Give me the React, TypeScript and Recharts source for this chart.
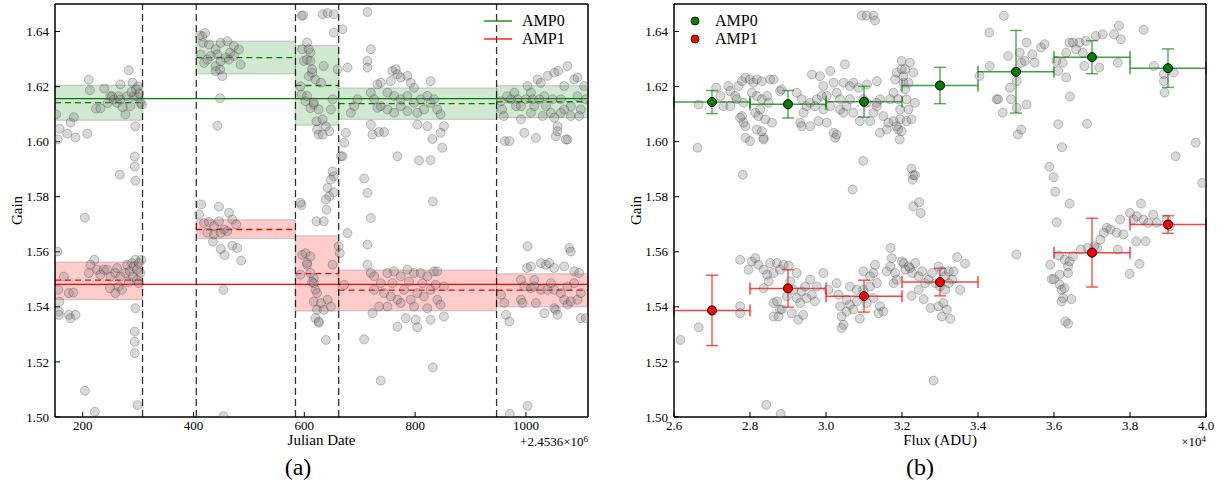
import React from 'react';
import { ScatterChart, Scatter, XAxis, YAxis, ReferenceArea, ReferenceLine, ErrorBar, Legend } from 'recharts';

const FONT = '"Liberation Serif", "DejaVu Serif", serif';
const GREEN = '#008000';
const RED = '#ff0000';

// ---- panel (a): gain vs Julian date (offset 2.4536e6) ----
const dateTicks = [200, 400, 600, 800, 1000];
const gainTicks = [1.5, 1.52, 1.54, 1.56, 1.58, 1.6, 1.62, 1.64];
const breakDates = [308, 405, 584, 662, 947];
const segStart = [150, 405, 584, 662, 947];
const segEnd = [308, 584, 662, 947, 1112];
const amp0Mean = [1.6142, 1.6305, 1.6204, 1.6138, 1.6145];
const amp0Lo = [1.6078, 1.6246, 1.606, 1.6081, 1.6087];
const amp0Hi = [1.6205, 1.6365, 1.6349, 1.6195, 1.6203];
const amp1Mean = [1.5497, 1.5681, 1.5521, 1.5461, 1.5461];
const amp1Lo = [1.5427, 1.5648, 1.5385, 1.5386, 1.54];
const amp1Hi = [1.5563, 1.5716, 1.5658, 1.5534, 1.552];
const amp0Overall = 1.6156;
const amp1Overall = 1.5482;

const dateGainSeg1: [number, number][] = [
  [152, 1.6099], [158, 1.6047], [155, 1.6008], [172, 1.6029], [178, 1.6069], [184, 1.6089], [187, 1.6015],
  [208, 1.6029], [211, 1.6225], [213, 1.6187], [224, 1.612], [232, 1.6121], [239, 1.6193], [250, 1.6165],
  [253, 1.6165], [256, 1.6153], [262, 1.6141], [265, 1.6165], [268, 1.6208], [268, 1.6153], [277, 1.6099],
  [280, 1.6165], [283, 1.6259], [286, 1.6129], [290, 1.6214], [292, 1.6165], [295, 1.6056], [298, 1.6165],
  [300, 1.6201], [304, 1.6141], [307, 1.6135], [296, 1.619], [302, 1.6175], [288, 1.618], [245, 1.614],
  [272, 1.6125], [294, 1.5946], [294, 1.591], [295, 1.5858], [267, 1.588], [204, 1.5724],
  [154, 1.5601], [156, 1.5462], [158, 1.5419], [157, 1.5383], [157, 1.5371], [175, 1.5371], [178, 1.5359],
  [187, 1.5371], [166, 1.551], [175, 1.545], [183, 1.5452], [211, 1.5523], [214, 1.5553], [221, 1.5571],
  [226, 1.5535], [232, 1.5517], [238, 1.5535], [244, 1.5535], [250, 1.551], [259, 1.5523], [262, 1.5541],
  [249, 1.5468], [259, 1.545], [265, 1.5474], [271, 1.5462], [268, 1.551], [277, 1.5523], [280, 1.5553],
  [283, 1.549], [285, 1.5529], [289, 1.5559], [292, 1.5547], [295, 1.5571], [298, 1.5535], [301, 1.5559],
  [304, 1.5523], [306, 1.5571], [291, 1.551], [298, 1.5498], [301, 1.5486], [295, 1.5395], [294, 1.531],
  [294, 1.5273], [294, 1.5232], [299, 1.5043], [204, 1.5095], [222, 1.5019],
];
const dateGainSeg2: [number, number][] = [
  [411, 1.6386], [416, 1.6383], [421, 1.6395], [417, 1.6359], [428, 1.6353], [440, 1.6335], [449, 1.6359],
  [461, 1.6365], [473, 1.6347], [482, 1.6335], [419, 1.6286], [425, 1.6298], [440, 1.6274], [448, 1.6262],
  [452, 1.6238], [466, 1.6323], [473, 1.6311], [485, 1.628], [449, 1.6292], [443, 1.6317], [431, 1.6311],
  [458, 1.6305], [464, 1.6298], [413, 1.6317], [440, 1.6256], [448, 1.6158], [443, 1.6058],
  [414, 1.5772], [446, 1.5764], [410, 1.5736], [419, 1.5705], [428, 1.5708], [437, 1.5693], [446, 1.5711],
  [455, 1.5681], [464, 1.5742], [470, 1.5717], [477, 1.5699], [425, 1.5669], [437, 1.5663], [449, 1.5669],
  [461, 1.5675], [435, 1.5637], [449, 1.561], [456, 1.5588], [470, 1.5622], [479, 1.5614], [486, 1.5568],
  [454, 1.5462], [454, 1.5003],
];
const dateGainSeg3: [number, number][] = [
  [595, 1.6457], [596, 1.6336], [599, 1.6293], [605, 1.6298], [611, 1.6323], [608, 1.6238], [614, 1.625],
  [593, 1.6201], [595, 1.6171], [602, 1.6147], [611, 1.6122], [617, 1.6135], [622, 1.6074], [623, 1.6044],
  [626, 1.6026], [595, 1.577], [622, 1.5711], [598, 1.6459], [633, 1.6463], [642, 1.6467], [653, 1.6463],
  [653, 1.6396], [605, 1.636], [608, 1.6336], [611, 1.6293], [614, 1.6263], [620, 1.6226], [630, 1.6214],
  [635, 1.6275], [605, 1.6166], [617, 1.6142], [626, 1.6117], [633, 1.6081], [639, 1.6056], [645, 1.6038],
  [633, 1.6026], [648, 1.6117], [651, 1.6154], [660, 1.6263], [653, 1.5874], [651, 1.5892], [648, 1.5862],
  [642, 1.5832], [645, 1.5802], [639, 1.579], [640, 1.5753], [635, 1.5711], [593, 1.5778], [653, 1.5816],
  [666, 1.5947],
  [596, 1.5589], [602, 1.5595], [611, 1.5583], [605, 1.5553], [593, 1.5517], [617, 1.5505], [620, 1.5462],
  [614, 1.549], [617, 1.5419], [620, 1.5359], [626, 1.5342], [623, 1.539], [605, 1.556], [611, 1.5523],
  [617, 1.5486], [623, 1.545], [630, 1.5414], [635, 1.5389], [626, 1.5347], [639, 1.528], [642, 1.5426],
  [648, 1.5401], [651, 1.5553], [662, 1.562], [664, 1.5595],
];
const dateGainSeg4: [number, number][] = [
  [678, 1.6269], [669, 1.6408], [714, 1.6471], [720, 1.6336], [714, 1.6293], [714, 1.6269], [738, 1.6214],
  [732, 1.6208], [720, 1.6178], [726, 1.6154], [732, 1.6123], [720, 1.6062], [723, 1.6026], [735, 1.6035],
  [744, 1.6035], [759, 1.6257], [765, 1.6263], [768, 1.6245], [774, 1.6233], [786, 1.6239], [792, 1.6214],
  [798, 1.6196], [756, 1.622], [750, 1.6178], [762, 1.6166], [774, 1.6154], [786, 1.6166], [798, 1.6141],
  [810, 1.6154], [822, 1.6166], [828, 1.622], [834, 1.6154], [840, 1.6117], [846, 1.6099], [852, 1.6056],
  [738, 1.6129], [750, 1.6117], [762, 1.6105], [774, 1.6129], [786, 1.6111], [804, 1.6105], [816, 1.6117],
  [828, 1.6141], [804, 1.6062], [822, 1.6056], [846, 1.6032], [831, 1.601], [849, 1.5978], [768, 1.5947],
  [807, 1.5932], [828, 1.5933], [708, 1.5866], [714, 1.5814], [720, 1.5723], [678, 1.5668], [832, 1.5783],
  [672, 1.5996], [669, 1.5947], [675, 1.6032], [690, 1.6129], [684, 1.6105], [696, 1.6154],
  [714, 1.5626], [714, 1.5553], [708, 1.5282], [738, 1.5132], [832, 1.518], [720, 1.5523], [726, 1.5511],
  [738, 1.5486], [750, 1.5523], [762, 1.5529], [774, 1.5511], [786, 1.5535], [798, 1.5523], [810, 1.5523],
  [822, 1.5511], [834, 1.5529], [840, 1.5529], [852, 1.5474], [723, 1.5377], [735, 1.5401], [750, 1.5401],
  [768, 1.5328], [783, 1.5359], [801, 1.5353], [804, 1.5326], [828, 1.5353], [852, 1.5365], [726, 1.5462],
  [744, 1.545], [756, 1.5438], [768, 1.5426], [780, 1.5462], [792, 1.5426], [804, 1.545], [816, 1.5438],
  [828, 1.5462], [840, 1.5426], [846, 1.5408], [774, 1.5414], [798, 1.5401], [822, 1.5395], [759, 1.5486],
  [789, 1.5492], [813, 1.5486], [837, 1.548], [672, 1.548],
];
const dateGainSeg5: [number, number][] = [
  [955, 1.6147], [957, 1.6117], [960, 1.6093], [962, 1.6002], [970, 1.6002], [966, 1.6165], [979, 1.6178],
  [985, 1.6154], [991, 1.6081], [997, 1.6032], [1003, 1.6202], [1009, 1.6178], [1015, 1.6129], [1018, 1.6014],
  [1021, 1.6226], [1027, 1.6214], [1033, 1.6165], [1039, 1.6239], [1045, 1.6105], [1051, 1.6251], [1054, 1.602],
  [1057, 1.6056], [1058, 1.6257], [1063, 1.6154], [1069, 1.6202], [1075, 1.6275], [1075, 1.6008], [1081, 1.6129],
  [1087, 1.6226], [1093, 1.6165], [1099, 1.6117], [1105, 1.6202], [1108, 1.6154], [1093, 1.6233], [982, 1.6129],
  [1000, 1.6154], [1012, 1.6154], [1024, 1.6154], [1036, 1.6129], [1048, 1.6154], [1069, 1.6117], [1081, 1.6093],
  [1096, 1.6093], [1063, 1.6105], [1051, 1.6087], [1030, 1.6093], [1009, 1.6105], [991, 1.6129], [973, 1.6154],
  [1072, 1.6008], [1057, 1.6038],
  [1003, 1.562], [1078, 1.5614], [1081, 1.5601], [1002, 1.5541], [1009, 1.5547], [1027, 1.5559], [1036, 1.5553],
  [1042, 1.5559], [1051, 1.5541], [1069, 1.5547], [1087, 1.5529], [1096, 1.5523], [955, 1.5444], [961, 1.5414],
  [964, 1.5371], [970, 1.5347], [991, 1.5498], [997, 1.5474], [1009, 1.5468], [1015, 1.5474], [991, 1.5426],
  [994, 1.5414], [1018, 1.5414], [1033, 1.5377], [1051, 1.5395], [1054, 1.5389], [1057, 1.5371], [1069, 1.5426],
  [1075, 1.5408], [1081, 1.542], [1093, 1.5426], [1099, 1.5359], [1108, 1.5359], [1051, 1.5462], [1063, 1.545],
  [1075, 1.5474], [1087, 1.5486], [1099, 1.545], [1027, 1.5462], [1039, 1.5462], [1045, 1.5486], [1015, 1.5498],
  [1003, 1.504], [971, 1.5011],
];

// ---- panel (b): gain vs flux (units of 1e4 ADU) ----
const fluxTicks = [26000, 28000, 30000, 32000, 34000, 36000, 38000, 40000];
const fluxGainLow: [number, number][] = [
  [2.662, 1.5978], [2.665, 1.6135], [2.711, 1.6196], [2.722, 1.6166], [2.743, 1.6202], [2.748, 1.6184],
  [2.761, 1.6166], [2.77, 1.6202], [2.779, 1.622], [2.788, 1.6232], [2.8, 1.6226], [2.809, 1.6214],
  [2.818, 1.6226], [2.831, 1.622], [2.853, 1.6226], [2.862, 1.6226], [2.879, 1.6184], [2.883, 1.619],
  [2.73, 1.6129], [2.748, 1.6129], [2.765, 1.6154], [2.783, 1.6141], [2.779, 1.6093], [2.783, 1.6069],
  [2.788, 1.6056], [2.774, 1.6087], [2.788, 1.6014], [2.8, 1.6002], [2.818, 1.6044], [2.836, 1.6014],
  [2.836, 1.6008], [2.831, 1.6038], [2.814, 1.6105], [2.822, 1.6093], [2.827, 1.6117], [2.831, 1.6154],
  [2.845, 1.6166], [2.849, 1.6141], [2.858, 1.6069], [2.84, 1.6081], [2.818, 1.6166], [2.805, 1.6178],
  [2.781, 1.588], [2.923, 1.6178], [2.936, 1.6154], [2.941, 1.6105], [2.949, 1.6129], [2.958, 1.6141],
  [2.963, 1.6244], [2.984, 1.6238], [2.993, 1.6202], [2.932, 1.6069], [2.936, 1.6056], [2.958, 1.6056],
  [2.98, 1.6075], [2.993, 1.6117], [2.976, 1.6154], [2.989, 1.6166], [2.971, 1.6129],
  [2.617, 1.528], [2.665, 1.5326], [2.774, 1.5571], [2.774, 1.5402], [2.774, 1.5377], [2.796, 1.5535],
  [2.805, 1.5565], [2.814, 1.5577], [2.822, 1.5553], [2.836, 1.5535], [2.845, 1.5517], [2.853, 1.5559],
  [2.862, 1.5523], [2.871, 1.5559], [2.879, 1.5535], [2.888, 1.5553], [2.902, 1.555], [2.836, 1.5468],
  [2.849, 1.5493], [2.862, 1.5414], [2.871, 1.542], [2.879, 1.539], [2.862, 1.5365], [2.875, 1.5365],
  [2.884, 1.539], [2.897, 1.5438], [2.914, 1.5462], [2.923, 1.5432], [2.932, 1.5414], [2.936, 1.5456],
  [2.945, 1.5474], [2.949, 1.5432], [2.958, 1.5499], [2.963, 1.5444], [2.971, 1.542], [2.976, 1.5474],
  [2.993, 1.5523], [2.923, 1.5523], [2.91, 1.5377], [2.927, 1.5353], [2.94, 1.5371], [2.906, 1.5493],
  [2.843, 1.5044], [2.881, 1.5011],
];
const fluxGainMid: [number, number][] = [
  [3.002, 1.6166], [3.011, 1.6257], [3.02, 1.6214], [3.028, 1.6178], [3.037, 1.6154], [3.046, 1.6214],
  [3.05, 1.6281], [3.063, 1.6202], [3.072, 1.6214], [3.085, 1.6196], [3.002, 1.6069], [3.02, 1.6032],
  [3.024, 1.6014], [3.028, 1.6026], [3.011, 1.6129], [3.037, 1.6117], [3.046, 1.6105], [3.054, 1.6129],
  [3.063, 1.6154], [3.072, 1.6105], [3.089, 1.6075], [3.098, 1.593], [3.07, 1.5826], [3.116, 1.6075],
  [3.125, 1.6105], [3.134, 1.6129], [3.142, 1.6032], [3.16, 1.6044], [3.151, 1.6093], [3.164, 1.6069],
  [3.169, 1.6154], [3.178, 1.6178], [3.182, 1.6226], [3.186, 1.6251], [3.19, 1.6154], [3.195, 1.6117],
  [3.199, 1.6293], [3.199, 1.6263], [3.204, 1.6238], [3.204, 1.6214], [3.208, 1.619], [3.212, 1.6154],
  [3.217, 1.6117], [3.221, 1.6287], [3.217, 1.6214], [3.195, 1.6081], [3.186, 1.6056], [3.178, 1.6075],
  [3.19, 1.6044], [3.142, 1.6154], [3.133, 1.6141], [3.107, 1.6141], [3.098, 1.6154], [3.108, 1.6208],
  [3.134, 1.622], [3.094, 1.6458], [3.107, 1.6458], [3.125, 1.6458], [3.129, 1.644],
  [3.225, 1.5902], [3.229, 1.5878], [3.228, 1.5862], [3.234, 1.5878], [3.23, 1.5765], [3.245, 1.578],
  [3.249, 1.5741], [3.194, 1.6008], [3.199, 1.6038], [3.212, 1.6075], [3.225, 1.6081], [3.208, 1.6263],
  [3.23, 1.6251], [3.234, 1.6141],
  [3.006, 1.5462], [3.028, 1.5486], [3.033, 1.5444], [3.037, 1.5402], [3.041, 1.5365], [3.046, 1.5335],
  [3.041, 1.5323], [3.054, 1.5383], [3.063, 1.5408], [3.072, 1.539], [3.081, 1.542], [3.089, 1.5357],
  [3.098, 1.5462], [3.107, 1.5414], [3.116, 1.5474], [3.125, 1.5432], [3.134, 1.5486], [3.142, 1.5402],
  [3.151, 1.5383], [3.138, 1.5377], [3.125, 1.5523], [3.129, 1.5553], [3.098, 1.5529], [3.116, 1.5511],
  [3.16, 1.5529], [3.169, 1.5547], [3.17, 1.5614], [3.173, 1.5577], [3.182, 1.5523], [3.178, 1.5486],
  [3.186, 1.5499], [3.204, 1.5559], [3.221, 1.5541], [3.063, 1.5474], [3.054, 1.5426], [3.081, 1.5462],
  [3.2, 1.5565], [3.209, 1.5535], [3.218, 1.5547], [3.227, 1.5523], [3.235, 1.5559], [3.244, 1.5511],
  [3.253, 1.5529], [3.261, 1.5486], [3.27, 1.5499], [3.279, 1.5523], [3.288, 1.5486], [3.305, 1.5529],
  [3.314, 1.5511], [3.323, 1.5529], [3.332, 1.5499], [3.345, 1.5581], [3.353, 1.5462], [3.366, 1.5557],
  [3.225, 1.544], [3.244, 1.5462], [3.257, 1.5428], [3.275, 1.5396], [3.296, 1.5402], [3.305, 1.5365],
  [3.318, 1.539], [3.327, 1.5357], [3.309, 1.5414], [3.283, 1.5132], [3.296, 1.5547], [3.3, 1.5474],
  [3.314, 1.5462], [3.323, 1.5486], [3.336, 1.5529],
];
const fluxGainHigh: [number, number][] = [
  [3.404, 1.6239], [3.431, 1.6275], [3.43, 1.6396], [3.468, 1.6457], [3.479, 1.6311], [3.51, 1.6323],
  [3.514, 1.6287], [3.523, 1.6293], [3.528, 1.636], [3.543, 1.6317], [3.549, 1.6287], [3.566, 1.6342],
  [3.575, 1.6354], [3.449, 1.6154], [3.453, 1.6154], [3.484, 1.6196], [3.502, 1.622], [3.487, 1.6154],
  [3.502, 1.6123], [3.528, 1.6135], [3.465, 1.6105], [3.505, 1.6026], [3.514, 1.6044],
  [3.632, 1.6323], [3.641, 1.636], [3.65, 1.636], [3.658, 1.6336], [3.667, 1.636], [3.676, 1.6323],
  [3.684, 1.6366], [3.71, 1.6384], [3.728, 1.639], [3.758, 1.639], [3.771, 1.6421], [3.776, 1.6372],
  [3.768, 1.6287], [3.719, 1.6269], [3.68, 1.6275], [3.623, 1.6287], [3.606, 1.6293], [3.611, 1.6257],
  [3.632, 1.6233], [3.642, 1.6164], [3.836, 1.6406], [3.863, 1.6275], [3.889, 1.6245], [3.915, 1.6251],
  [3.889, 1.622], [3.891, 1.6178],
  [3.611, 1.6063], [3.687, 1.6065], [3.621, 1.598], [3.588, 1.5909], [3.599, 1.5871], [3.603, 1.5818],
  [3.641, 1.5775], [3.607, 1.5707], [3.92, 1.5947], [3.973, 1.5996], [3.99, 1.585],
  [3.739, 1.5687], [3.748, 1.5681], [3.765, 1.5669], [3.774, 1.5717], [3.783, 1.5663], [3.8, 1.5741],
  [3.809, 1.5717], [3.818, 1.5729], [3.829, 1.5775], [3.835, 1.5717], [3.848, 1.5705], [3.861, 1.5735],
  [3.87, 1.5705], [3.896, 1.5717], [3.905, 1.5693], [3.841, 1.5638], [3.731, 1.5669], [3.722, 1.5644],
  [3.714, 1.5614], [3.501, 1.559], [3.59, 1.5553], [3.594, 1.5501], [3.6, 1.5501], [3.613, 1.5587],
  [3.615, 1.5517], [3.628, 1.5571], [3.637, 1.5547], [3.637, 1.5523], [3.641, 1.5565], [3.65, 1.5584],
  [3.615, 1.5481], [3.62, 1.5462], [3.628, 1.5468], [3.624, 1.5432], [3.62, 1.542], [3.646, 1.5428],
  [3.63, 1.5347], [3.637, 1.5339], [3.689, 1.5614], [3.706, 1.562], [3.671, 1.5608], [3.768, 1.5608],
  [3.799, 1.552], [3.825, 1.5556], [3.816, 1.5638],
];

const binFlux0 = [27000, 29000, 31000, 33000, 35000, 37000, 39000];
const binGain0 = [1.6144, 1.6136, 1.6145, 1.6204, 1.6254, 1.6307, 1.6267];
const binErr0 = [0.0042, 0.005, 0.0056, 0.0066, 0.015, 0.006, 0.007];
const binFlux1 = [27000, 29000, 31000, 33000, 37000, 39000];
const binGain1 = [1.5387, 1.5467, 1.5439, 1.549, 1.5597, 1.5699];
const binErr1 = [0.0128, 0.0068, 0.0058, 0.005, 0.0125, 0.0032];
const binHalfWidth = 1000;

const panelAPoints = [...dateGainSeg1, ...dateGainSeg2, ...dateGainSeg3, ...dateGainSeg4, ...dateGainSeg5]
  .map(([x, y]) => ({ x, y }));
const panelBPoints = [...fluxGainLow, ...fluxGainMid, ...fluxGainHigh].map(([f, y]) => ({ x: f * 1e4, y }));
const bins0 = binFlux0.map((x, i) => ({ x, y: binGain0[i], ey: binErr0[i], ex: binHalfWidth }));
const bins1 = binFlux1.map((x, i) => ({ x, y: binGain1[i], ey: binErr1[i], ex: binHalfWidth }));

const greyDot = (p: any) => (
  <circle cx={p.cx} cy={p.cy} r={4.5} fill="#808080" fillOpacity={0.3} stroke="#000" strokeOpacity={0.28} strokeWidth={0.8} />
);
const binDot = (color: string) => (p: any) => (
  <circle cx={p.cx} cy={p.cy} r={4.5} fill={color} stroke="#000" strokeWidth={1} />
);

const tickStyle = { fill: '#000', fontSize: 13, fontFamily: FONT, style: { fontFamily: FONT } };
const axisLine = { stroke: '#000', strokeWidth: 1.5 };
const tickLine = { stroke: '#000', strokeWidth: 1 };

const gainLabel = {
  content: (props: any) => {
    const vb = props.viewBox;
    const cx = vb.x + 7;
    const cy = vb.y + vb.height / 2;
    return (
      <text x={cx} y={cy} transform={`rotate(-90 ${cx} ${cy})`} textAnchor="middle" dominantBaseline="central"
        style={{ fontFamily: FONT, fontSize: 15 }} fill="#000">Gain</text>
    );
  },
};
const xLabel = (title: string) => ({
  content: (props: any) => {
    const vb = props.viewBox;
    return (
      <text x={vb.x + vb.width / 2} y={vb.y + 28} textAnchor="middle" style={{ fontFamily: FONT, fontSize: 15 }} fill="#000">{title}</text>
    );
  },
});

function LegendA() {
  const rows = [{ name: 'AMP0', c: GREEN }, { name: 'AMP1', c: RED }];
  return (
    <div style={{ fontFamily: FONT, fontSize: 16, color: '#000' }}>
      {rows.map((r) => (
        <div key={r.name} style={{ display: 'flex', alignItems: 'center', height: 18 }}>
          <svg width={28} height={18} style={{ marginRight: 10 }}>
            <line x1={0} x2={28} y1={9} y2={9} stroke={r.c} strokeWidth={1.3} />
          </svg>
          <span>{r.name}</span>
        </div>
      ))}
    </div>
  );
}

function LegendB() {
  const rows = [{ name: 'AMP0', c: GREEN }, { name: 'AMP1', c: RED }];
  return (
    <div style={{ fontFamily: FONT, fontSize: 16, color: '#000' }}>
      {rows.map((r) => (
        <div key={r.name} style={{ display: 'flex', alignItems: 'center', height: 18 }}>
          <svg width={10} height={18} style={{ marginRight: 15 }}>
            <circle cx={5} cy={9} r={4} fill={r.c} stroke="#000" strokeWidth={0.8} />
          </svg>
          <span>{r.name}</span>
        </div>
      ))}
    </div>
  );
}

export default function App() {
  return (
    <div style={{ position: 'absolute', left: 0, top: 0, width: 1226, height: 491, background: '#fff', fontFamily: FONT }}>
      <div style={{ position: 'absolute', left: 0, top: 0 }}>
        <ScatterChart width={600} height={460} margin={{ top: 3, right: 11, bottom: 13, left: 10 }}>
          <XAxis type="number" dataKey="x" domain={[150, 1112]} ticks={dateTicks} allowDataOverflow interval={0}
            height={30} tickSize={-5} tickMargin={9} tick={tickStyle} axisLine={axisLine} tickLine={tickLine}
            label={xLabel('Julian Date')} />
          <XAxis xAxisId="top" orientation="top" type="number" domain={[150, 1112]} ticks={dateTicks} allowDataOverflow
            interval={0} height={1} tickSize={-5} tick={false} axisLine={axisLine} tickLine={tickLine} />
          <YAxis type="number" dataKey="y" domain={[1.5, 1.65]} ticks={gainTicks} allowDataOverflow interval={0}
            width={45} tickSize={-5} tickMargin={11} tick={tickStyle} axisLine={axisLine} tickLine={tickLine}
            tickFormatter={(v: number) => v.toFixed(2)} label={gainLabel} />
          <YAxis yAxisId="right" orientation="right" type="number" domain={[1.5, 1.65]} ticks={gainTicks} allowDataOverflow
            interval={0} width={1} tickSize={-5} tick={false} axisLine={axisLine} tickLine={tickLine} />

          {segStart.map((s, i) => (
            <ReferenceArea key={`g${i}`} x1={s} x2={segEnd[i]} y1={amp0Lo[i]} y2={amp0Hi[i]}
              fill={GREEN} fillOpacity={0.18} stroke="#555" strokeOpacity={0.3} />
          ))}
          {segStart.map((s, i) => (
            <ReferenceArea key={`r${i}`} x1={s} x2={segEnd[i]} y1={amp1Lo[i]} y2={amp1Hi[i]}
              fill={RED} fillOpacity={0.2} stroke="#555" strokeOpacity={0.3} />
          ))}
          <ReferenceLine y={amp0Overall} stroke={GREEN} strokeWidth={1.2} />
          <ReferenceLine y={amp1Overall} stroke={RED} strokeWidth={1.2} />
          {segStart.map((s, i) => (
            <ReferenceLine key={`gm${i}`} segment={[{ x: s, y: amp0Mean[i] }, { x: segEnd[i], y: amp0Mean[i] }]}
              stroke={GREEN} strokeWidth={1.3} strokeDasharray="6 4" />
          ))}
          {segStart.map((s, i) => (
            <ReferenceLine key={`rm${i}`} segment={[{ x: s, y: amp1Mean[i] }, { x: segEnd[i], y: amp1Mean[i] }]}
              stroke={RED} strokeWidth={1.3} strokeDasharray="6 4" />
          ))}
          {breakDates.map((d) => (
            <ReferenceLine key={`v${d}`} x={d} stroke="#000" strokeOpacity={0.8} strokeWidth={1.3} strokeDasharray="7 4" />
          ))}
          <Scatter data={panelAPoints} shape={greyDot} isAnimationActive={false} />
          <Legend layout="horizontal" verticalAlign="middle" align="center"
            wrapperStyle={{ top: 12, left: 484, width: 'auto', height: 'auto' }} content={() => <LegendA />} />
        </ScatterChart>
      </div>

      <div style={{ position: 'absolute', left: 620, top: 0 }}>
        <ScatterChart width={600} height={460} margin={{ top: 3, right: 13, bottom: 13, left: 9 }}>
          <XAxis type="number" dataKey="x" domain={[26000, 40000]} ticks={fluxTicks} allowDataOverflow interval={0}
            height={30} tickSize={-5} tickMargin={9} tick={tickStyle} axisLine={axisLine} tickLine={tickLine}
            tickFormatter={(v: number) => (v / 1e4).toFixed(1)} label={xLabel('Flux (ADU)')} />
          <XAxis xAxisId="top" orientation="top" type="number" domain={[26000, 40000]} ticks={fluxTicks} allowDataOverflow
            interval={0} height={1} tickSize={-5} tick={false} axisLine={axisLine} tickLine={tickLine} />
          <YAxis type="number" dataKey="y" domain={[1.5, 1.65]} ticks={gainTicks} allowDataOverflow interval={0}
            width={45} tickSize={-5} tickMargin={11} tick={tickStyle} axisLine={axisLine} tickLine={tickLine}
            tickFormatter={(v: number) => v.toFixed(2)} label={gainLabel} />
          <YAxis yAxisId="right" orientation="right" type="number" domain={[1.5, 1.65]} ticks={gainTicks} allowDataOverflow
            interval={0} width={1} tickSize={-5} tick={false} axisLine={axisLine} tickLine={tickLine} />

          <Scatter data={panelBPoints} shape={greyDot} isAnimationActive={false} />
          <Scatter data={bins0} shape={binDot(GREEN)} isAnimationActive={false}>
            <ErrorBar dataKey="ex" direction="x" width={6} stroke={GREEN} strokeOpacity={0.75} strokeWidth={1.5} />
            <ErrorBar dataKey="ey" direction="y" width={6} stroke={GREEN} strokeOpacity={0.65} strokeWidth={1.5} />
          </Scatter>
          <Scatter data={bins1} shape={binDot(RED)} isAnimationActive={false}>
            <ErrorBar dataKey="ex" direction="x" width={6} stroke={RED} strokeOpacity={0.75} strokeWidth={1.5} />
            <ErrorBar dataKey="ey" direction="y" width={6} stroke={RED} strokeOpacity={0.65} strokeWidth={1.5} />
          </Scatter>
          <Legend layout="horizontal" verticalAlign="middle" align="center"
            wrapperStyle={{ top: 12, left: 70, width: 'auto', height: 'auto' }} content={() => <LegendB />} />
        </ScatterChart>
      </div>

      <div style={{ position: 'absolute', left: 480, top: 435, width: 108, textAlign: 'right', fontSize: 13, lineHeight: '13px' }}>
        +2.4536×10<sup style={{ fontSize: 9, verticalAlign: 'top', lineHeight: '9px' }}>6</sup>
      </div>
      <div style={{ position: 'absolute', left: 1150, top: 435, width: 56, textAlign: 'right', fontSize: 13, lineHeight: '13px' }}>
        ×10<sup style={{ fontSize: 9, verticalAlign: 'top', lineHeight: '9px' }}>4</sup>
      </div>
      <div style={{ position: 'absolute', left: 268, top: 452, width: 60, textAlign: 'center', fontSize: 24, lineHeight: '30px' }}>(a)</div>
      <div style={{ position: 'absolute', left: 890, top: 452, width: 60, textAlign: 'center', fontSize: 24, lineHeight: '30px' }}>(b)</div>
    </div>
  );
}
